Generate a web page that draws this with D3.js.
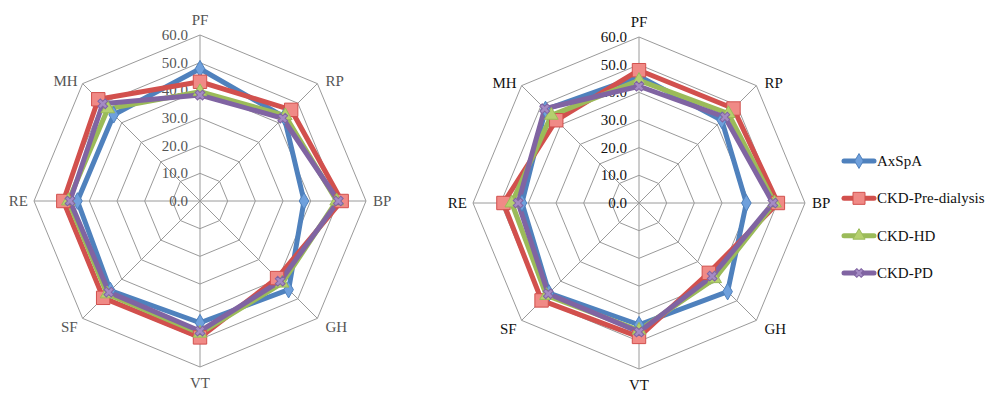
<!DOCTYPE html>
<html>
<head>
<meta charset="utf-8">
<script src="https://cdn.jsdelivr.net/npm/d3@7/dist/d3.min.js"></script>
<style>
  html, body { margin: 0; padding: 0; background: #fff; }
  svg { display: block; }
</style>
</head>
<body>
<svg id="chart" width="987" height="394"></svg>
<script>
// ---- data ----
const axes = ["PF", "RP", "BP", "GH", "VT", "SF", "RE", "MH"];
const ticks = [0, 10, 20, 30, 40, 50, 60];
const seriesNames = ["AxSpA", "CKD-Pre-dialysis", "CKD-HD", "CKD-PD"];

// left chart
const leftAxSpA = [47.8, 43.0, 37.6, 45.3, 44.0, 45.8, 44.3, 44.1];
const leftPre   = [43.1, 46.6, 51.2, 39.4, 49.3, 49.5, 49.4, 52.0];
const leftHD    = [39.5, 43.6, 49.4, 42.0, 47.8, 47.5, 47.6, 47.1];
const leftPD    = [38.3, 42.3, 50.0, 41.0, 47.0, 46.6, 47.0, 49.7];

// right chart
const rightAxSpA = [45.8, 42.3, 38.8, 45.3, 44.0, 46.0, 42.3, 47.8];
const rightPre   = [48.0, 48.3, 50.2, 35.7, 48.4, 49.8, 49.0, 42.3];
const rightHD    = [44.3, 45.7, 49.0, 38.7, 46.0, 47.3, 46.0, 44.8];
const rightPD    = [42.2, 43.9, 48.4, 37.4, 46.6, 46.4, 43.7, 48.2];

const colors = ["#4F81BD", "#D2504D", "#9BBB59", "#8064A2"];
const markerFill = ["#6FA0DC", "#F08A86", "#B5D06E", "#A48BC4"];

// label offsets relative to axis end: [dx, dy, anchor]
const labelPos = {
  PF: [0, -10, "middle"], RP: [8, 2, "start"], BP: [7, 5, "start"], GH: [8, 14, "start"],
  VT: [0, 21, "middle"], SF: [-5, 14, "end"], RE: [-6, 5, "end"], MH: [-5, 2, "end"]
};

const FONT = "'Liberation Serif', 'Times New Roman', Tinos, serif";
const svg = d3.select("#chart");

function txt(g) {
  return g.append("text").style("font-family", FONT).attr("font-size", 15);
}

function drawRadar(cx, cy, R, data, textColor) {
  const g = svg.append("g").attr("transform", `translate(${cx},${cy})`);
  const r = d3.scaleLinear().domain([0, 60]).range([0, R]);
  const ang = d3.scalePoint().domain(axes).range([0, 2 * Math.PI * (axes.length - 1) / axes.length]);
  const pt = (a, v) => [r(v) * Math.sin(ang(a)), -r(v) * Math.cos(ang(a))];

  ticks.slice(1).forEach(t => {
    g.append("polygon")
      .attr("points", axes.map(a => pt(a, t).join(",")).join(" "))
      .attr("fill", "none").attr("stroke", "#9a9a9a").attr("stroke-width", 1);
  });
  axes.forEach(a => {
    const p = pt(a, 60);
    g.append("line").attr("x1", 0).attr("y1", 0).attr("x2", p[0]).attr("y2", p[1])
      .attr("stroke", "#9a9a9a").attr("stroke-width", 1);
  });
  ticks.forEach(t => {
    txt(g).attr("x", -12).attr("y", -r(t) + 5)
      .attr("text-anchor", "end").attr("fill", textColor)
      .text(t.toFixed(1));
  });
  axes.forEach(a => {
    const p = pt(a, 60);
    const lp = labelPos[a];
    txt(g).attr("x", p[0] + lp[0]).attr("y", p[1] + lp[1]).attr("text-anchor", lp[2])
      .attr("fill", textColor).text(a);
  });

  const line = d3.lineRadial().angle((d, i) => ang(axes[i])).radius(d => r(d)).curve(d3.curveLinearClosed);
  data.forEach((vals, si) => {
    g.append("path").attr("d", line(vals)).attr("fill", "none")
      .attr("stroke", colors[si]).attr("stroke-width", 5).attr("stroke-linejoin", "round");
  });
  data.forEach((vals, si) => {
    vals.forEach((v, i) => {
      const p = pt(axes[i], v);
      drawMarker(g, si, p[0], p[1], 1);
    });
  });
}

function drawMarker(g, si, x, y, scale) {
  let sym;
  if (si === 0) sym = d3.symbol().type(d3.symbolDiamond).size(80 * scale);
  else if (si === 1) sym = d3.symbol().type(d3.symbolSquare).size(180 * scale);
  else if (si === 2) sym = d3.symbol().type(d3.symbolTriangle).size(80 * scale);
  else sym = d3.symbol().type(d3.symbolCross).size(60 * scale);
  return g.append("path").attr("d", sym()).attr("transform", `translate(${x},${y})` + (si === 3 ? " rotate(45)" : ""))
    .attr("fill", markerFill[si]).attr("stroke", colors[si]).attr("stroke-width", 1);
}

drawRadar(200, 201, 166, [leftAxSpA, leftPre, leftHD, leftPD], "#555");
drawRadar(639, 203, 166, [rightAxSpA, rightPre, rightHD, rightPD], "#111");

// legend
const legY = d3.scalePoint().domain(seriesNames).range([161, 273]);
const lg = svg.append("g");
seriesNames.forEach((s, i) => {
  const y = legY(s);
  lg.append("line").attr("x1", 844).attr("x2", 874).attr("y1", y).attr("y2", y)
    .attr("stroke", colors[i]).attr("stroke-width", 5).attr("stroke-linecap", "round");
  drawMarker(lg, i, 859, y, 0.8);
  txt(lg).attr("x", 877).attr("y", y + 5).attr("fill", "#111").text(s);
});
</script>
</body>
</html>
